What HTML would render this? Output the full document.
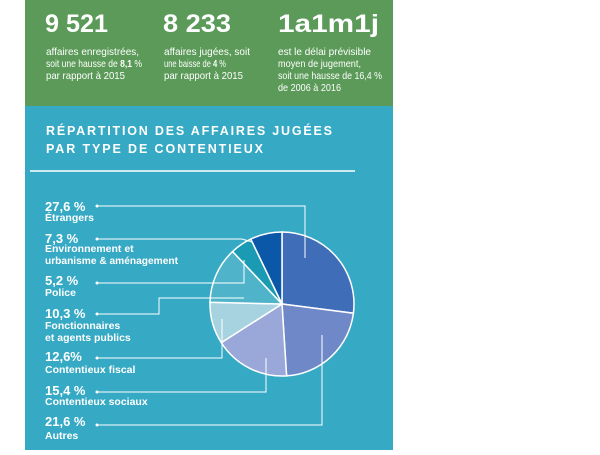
<!DOCTYPE html>
<html><head><meta charset="utf-8"><style>
body{margin:0;width:600px;height:450px;background:#fff;overflow:hidden;font-family:"Liberation Sans",sans-serif;}
</style></head><body>
<svg width="600" height="450" xmlns="http://www.w3.org/2000/svg" font-family="Liberation Sans, sans-serif">
<rect x="25" y="0" width="368" height="106" fill="#5b9a58"/>
<rect x="25" y="106" width="368" height="344" fill="#36a9c4"/>
<g fill="#fff">
<text x="45" y="32" font-size="25" font-weight="bold" textLength="63" lengthAdjust="spacingAndGlyphs">9 521</text>
<text x="163" y="32" font-size="25" font-weight="bold" textLength="68" lengthAdjust="spacingAndGlyphs">8 233</text>
<text x="278" y="32" font-size="25" font-weight="bold" textLength="101" lengthAdjust="spacingAndGlyphs">1a1m1j</text>
<g font-size="10.5">
<text x="46" y="55" textLength="93" lengthAdjust="spacingAndGlyphs">affaires enregistrées,</text>
<text x="46" y="67" textLength="96" lengthAdjust="spacingAndGlyphs">soit une hausse de <tspan font-weight="bold">8,1</tspan> %</text>
<text x="46" y="79" textLength="79" lengthAdjust="spacingAndGlyphs">par rapport à 2015</text>
<text x="164" y="55" textLength="86" lengthAdjust="spacingAndGlyphs">affaires jugées, soit</text>
<text x="164" y="67" textLength="62" lengthAdjust="spacingAndGlyphs">une baisse de <tspan font-weight="bold">4</tspan> %</text>
<text x="164" y="79" textLength="79" lengthAdjust="spacingAndGlyphs">par rapport à 2015</text>
<text x="278" y="55" textLength="93" lengthAdjust="spacingAndGlyphs">est le délai prévisible</text>
<text x="278" y="67" textLength="83" lengthAdjust="spacingAndGlyphs">moyen de jugement,</text>
<text x="278" y="79" textLength="104" lengthAdjust="spacingAndGlyphs">soit une hausse de 16,4 %</text>
<text x="278" y="91" textLength="63" lengthAdjust="spacingAndGlyphs">de 2006 à 2016</text>
</g>
<g font-size="12.5" font-weight="bold">
<text x="46" y="135" textLength="286" lengthAdjust="spacing">RÉPARTITION DES AFFAIRES JUGÉES</text>
<text x="46" y="153" textLength="217" lengthAdjust="spacing">PAR TYPE DE CONTENTIEUX</text>
</g>
</g>
<line x1="30" y1="171" x2="355" y2="171" stroke="#fff" stroke-width="1.5"/>
<g stroke="#fff" stroke-width="1.5">
<path d="M282,304 L282,232 A72,72 0 0 1 353.4,313.2 Z" fill="#3f6db8"/>
<path d="M282,304 L353.4,313.2 A72,72 0 0 1 286.6,375.9 Z" fill="#6f89c8"/>
<path d="M282,304 L286.6,375.9 A72,72 0 0 1 221.3,342.6 Z" fill="#9aa8d9"/>
<path d="M282,304 L221.3,342.6 A72,72 0 0 1 210,302.3 Z" fill="#a6d3df"/>
<path d="M282,304 L210,302.3 A72,72 0 0 1 232.6,251.5 Z" fill="#4fb4c9"/>
<path d="M282,304 L232.6,251.5 A72,72 0 0 1 250.8,239.1 Z" fill="#1a9ab3"/>
<path d="M282,304 L250.8,239.1 A72,72 0 0 1 282,232 Z" fill="#0b58a8"/>
</g>
<g stroke="#fff" stroke-width="1" fill="none">
<polyline points="97,206 305,206 305,258"/>
<polyline points="97,239 242,239 252,242"/>
<polyline points="97,283 244,283 244,260"/>
<polyline points="97,314 159,314 159,298 244,298"/>
<polyline points="97,358 222,358 222,319"/>
<polyline points="97,392 266,392 266,358"/>
<polyline points="97,425 322,425 322,335"/>
</g>
<g fill="#fff">
<circle cx="97" cy="206" r="1.5"/><circle cx="97" cy="239" r="1.5"/><circle cx="97" cy="283" r="1.5"/>
<circle cx="97" cy="314" r="1.5"/><circle cx="97" cy="358" r="1.5"/><circle cx="97" cy="392" r="1.5"/><circle cx="97" cy="425" r="1.5"/>
</g>
<g fill="#fff" font-weight="bold">
<g font-size="13">
<text x="45" y="211">27,6 %</text>
<text x="45" y="243">7,3 %</text>
<text x="45" y="285">5,2 %</text>
<text x="45" y="318">10,3 %</text>
<text x="45" y="361">12,6%</text>
<text x="45" y="395">15,4 %</text>
<text x="45" y="426">21,6 %</text>
</g>
<g font-size="10.5">
<text x="45" y="221">Étrangers</text>
<text x="45" y="252">Environnement et</text>
<text x="45" y="264" textLength="133" lengthAdjust="spacingAndGlyphs">urbanisme &amp; aménagement</text>
<text x="45" y="296">Police</text>
<text x="45" y="329">Fonctionnaires</text>
<text x="45" y="341">et agents publics</text>
<text x="45" y="373">Contentieux fiscal</text>
<text x="45" y="405">Contentieux sociaux</text>
<text x="45" y="439">Autres</text>
</g>
</g>
</svg>
</body></html>
